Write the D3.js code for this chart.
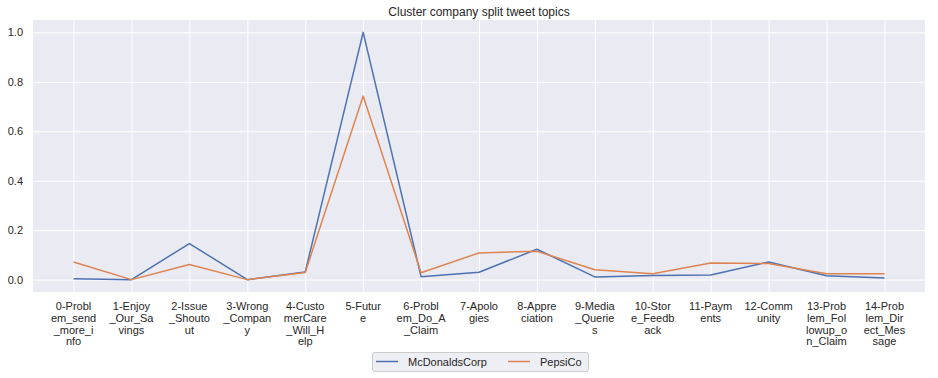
<!DOCTYPE html>
<html>
<head>
<meta charset="utf-8">
<script src="https://cdn.jsdelivr.net/npm/d3@7"></script>
<style>
  body { margin: 0; background: #fff; }
  text { font-family: "Liberation Sans", Arial, sans-serif; fill: #262626; }
</style>
</head>
<body>
<div id="chart"></div>
<script>
var width = 938, height = 378;

var topics = ["0-Problem_send_more_info", "1-Enjoy_Our_Savings", "2-Issue_Shoutout",
  "3-Wrong_Company", "4-CustomerCare_Will_Help", "5-Future", "6-Problem_Do_A_Claim",
  "7-Apologies", "8-Appreciation", "9-Media_Queries", "10-Store_Feedback",
  "11-Payments", "12-Community", "13-Problem_Followup_on_Claim", "14-Problem_Direct_Message"];

var mcdonalds = [0.004, 0.0, 0.146, 0.0, 0.031, 1.0, 0.012, 0.03, 0.123, 0.011, 0.017, 0.019, 0.071, 0.016, 0.0065];
var pepsico   = [0.071, 0.0, 0.061, 0.0, 0.029, 0.743, 0.028, 0.108, 0.115, 0.040, 0.024, 0.067, 0.065, 0.024, 0.024];

var yTicks = [0.0, 0.2, 0.4, 0.6, 0.8, 1.0];

var seriesNames = ["McDonaldsCorp", "PepsiCo"];
var seriesColors = ["#4c72b0", "#dd8452"];
var series = [mcdonalds, pepsico];

var margin = {top: 20, right: 13, bottom: 86, left: 33};

var xScale = d3.scaleLinear()
    .domain([-0.7, topics.length - 1 + 0.7])
    .range([margin.left, width - margin.right]);

var yScale = d3.scaleLinear()
    .domain([-0.05, 1.05])
    .range([height - margin.bottom, margin.top]);

var svg = d3.select("#chart")
  .append("svg")
  .attr("width", width)
  .attr("height", height)
  .style("display", "block");

// plot background
svg.append("rect")
  .attr("x", margin.left)
  .attr("y", margin.top)
  .attr("width", width - margin.left - margin.right)
  .attr("height", height - margin.top - margin.bottom)
  .style("fill", "#eaeaf2");

// grid lines
svg.append("g")
  .attr("transform", "translate(0," + margin.top + ")")
  .call(d3.axisBottom(xScale)
    .tickValues(d3.range(topics.length))
    .tickSize(height - margin.top - margin.bottom)
    .tickFormat(""))
  .call(g => g.select(".domain").remove())
  .call(g => g.selectAll("line").style("stroke", "#fff").style("stroke-width", 1));

svg.append("g")
  .attr("transform", "translate(" + margin.left + ",0)")
  .call(d3.axisRight(yScale)
    .tickValues(yTicks)
    .tickSize(width - margin.left - margin.right)
    .tickFormat(""))
  .call(g => g.select(".domain").remove())
  .call(g => g.selectAll("line").style("stroke", "#fff").style("stroke-width", 1));

// y tick labels
svg.append("g")
  .attr("transform", "translate(" + margin.left + ",0)")
  .call(d3.axisLeft(yScale)
    .tickValues(yTicks)
    .tickSize(0)
    .tickPadding(10)
    .tickFormat(d3.format(".1f")))
  .call(g => g.select(".domain").remove())
  .call(g => g.selectAll("text").style("font-size", "11px").style("fill", "#262626")
    .style("font-family", "Liberation Sans, Arial, sans-serif"));

// x tick labels, wrapped every 7 characters
function wrap7(s) {
  var out = [];
  for (var i = 0; i < s.length; i += 7) out.push(s.slice(i, i + 7));
  return out;
}

var xLab = svg.append("g").selectAll("text")
  .data(topics)
  .enter()
  .append("text")
  .attr("x", function(d, i) { return xScale(i); })
  .attr("y", height - margin.bottom + 18)
  .attr("text-anchor", "middle")
  .style("font-size", "11px");

xLab.each(function(d) {
  var t = d3.select(this);
  var x = t.attr("x");
  wrap7(d).forEach(function(line, k) {
    t.append("tspan")
      .attr("x", x)
      .attr("dy", k === 0 ? 0 : 11.8)
      .text(line);
  });
});

// lines
var lineGen = d3.line()
  .x(function(d, i) { return xScale(i); })
  .y(function(d) { return yScale(d); });

series.forEach(function(s, j) {
  svg.append("path")
    .datum(s)
    .attr("d", lineGen)
    .style("fill", "none")
    .style("stroke", seriesColors[j])
    .style("stroke-width", 1.5)
    .style("stroke-linejoin", "round");
});

// title
svg.append("text")
  .attr("x", (margin.left + width - margin.right) / 2)
  .attr("y", 16)
  .attr("text-anchor", "middle")
  .style("font-size", "12px")
  .text("Cluster company split tweet topics");

// legend
var legend = svg.append("g");
legend.append("rect")
  .attr("x", 372.5)
  .attr("y", 352.5)
  .attr("width", 216)
  .attr("height", 19)
  .attr("rx", 2.5)
  .style("fill", "#eaeaf2")
  .style("fill-opacity", 0.8)
  .style("stroke", "#cccccc")
  .style("stroke-width", 1);

var legX = [376, 508];
seriesNames.forEach(function(name, j) {
  legend.append("line")
    .attr("x1", legX[j])
    .attr("x2", legX[j] + 22)
    .attr("y1", 361.5)
    .attr("y2", 361.5)
    .style("stroke", seriesColors[j])
    .style("stroke-width", 1.5);
  legend.append("text")
    .attr("x", legX[j] + 32)
    .attr("y", 365.5)
    .style("font-size", "11px")
    .text(name);
});
</script>
</body>
</html>
